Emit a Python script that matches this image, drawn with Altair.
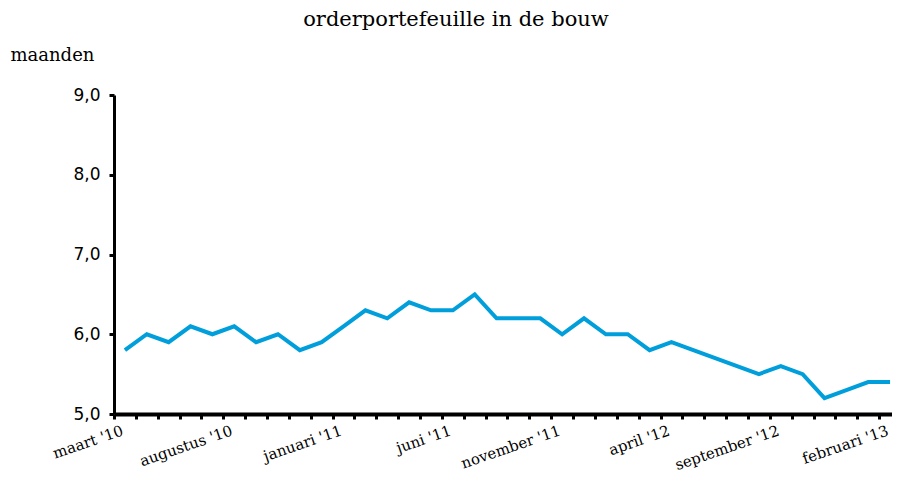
import json
import altair as alt
import pandas as pd

month_names = ["januari", "februari", "maart", "april", "mei", "juni", "juli",
               "augustus", "september", "oktober", "november", "december"]
# maart 2010 .. februari 2013
months = []
for k in range(36):
    m = (2 + k) % 12
    y = 10 + (2 + k) // 12
    months.append(f"{month_names[m]} '{y:02d}")

values = [5.8, 6.0, 5.9, 6.1, 6.0, 6.1, 5.9, 6.0, 5.8, 5.9, 6.1, 6.3,
          6.2, 6.4, 6.3, 6.3, 6.5, 6.2, 6.2, 6.2, 6.0, 6.2, 6.0, 6.0,
          5.8, 5.9, 5.8, 5.7, 5.6, 5.5, 5.6, 5.5, 5.2, 5.3, 5.4, 5.4]

shown_labels = months[::5]

df = pd.DataFrame({"maand": months, "waarde": values})

serif = "DejaVu Serif"
sans = "DejaVu Sans"

label_expr = f"indexof({json.dumps(shown_labels)}, datum.value) >= 0 ? datum.value : ''"

chart = alt.Chart(df).mark_line(color="#009fdb", strokeWidth=4, strokeJoin="miter").encode(
    x=alt.X("maand:O", sort=months,
            scale=alt.Scale(paddingInner=0, paddingOuter=0, range=[0, 787]),
            axis=alt.Axis(title=None, labelAngle=-19, labelExpr=label_expr,
                          labelOverlap=False, labelFont=serif, labelFontSize=15,
                          labelColor="black", labelPadding=4, labelOffset=-5,
                          tickBand="extent", tickSize=5, tickWidth=3, tickColor="black",
                          domainColor="black", domainWidth=4, grid=False)),
    y=alt.Y("waarde:Q",
            scale=alt.Scale(domain=[5, 9], nice=False, zero=False),
            axis=alt.Axis(title="maanden", titleAngle=0, titleX=-104, titleY=-40,
                          titleAlign="left", titleBaseline="middle",
                          titleFont=serif, titleFontSize=18, titleFontWeight="normal",
                          titleColor="black",
                          values=[5, 6, 7, 8, 9],
                          labelExpr="replace(format(datum.value, '.1f'), '.', ',')",
                          labelFont=sans, labelFontSize=17, labelColor="black",
                          labelPadding=9,
                          tickSize=5, tickWidth=3, tickColor="black",
                          domainColor="black", domainWidth=3, grid=False)),
).properties(
    width=778, height=319,
    autosize=alt.AutoSizeParams(type="none"),
    padding={"left": 106, "top": 87, "right": 0, "bottom": 62},
    title=alt.TitleParams("orderportefeuille in de bouw", font=serif, fontSize=21,
                          fontWeight="normal", color="black", anchor="middle",
                          dx=-47, offset=16),
).configure_view(stroke=None)

chart.save("out.html", embed_options={"renderer": "svg", "actions": False})
